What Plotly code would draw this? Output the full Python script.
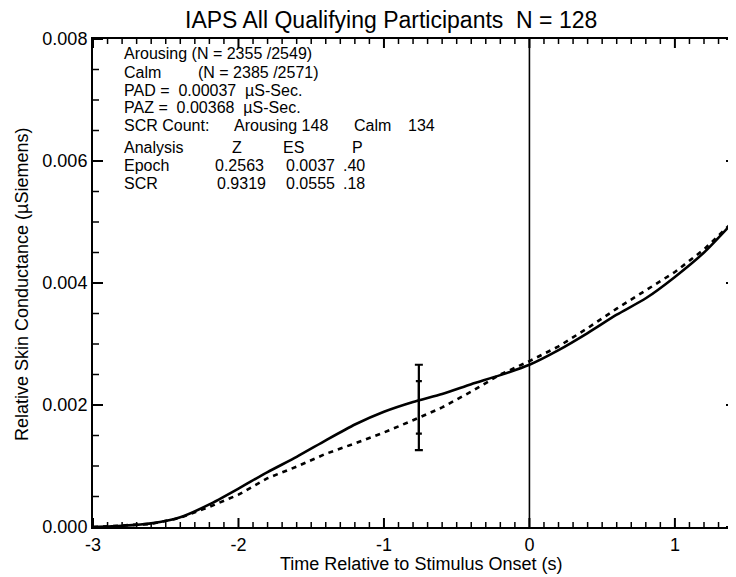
import plotly.graph_objects as go

# ---- data ----
time_s = [-3.0, -2.8, -2.6, -2.4, -2.2, -2.0, -1.8, -1.6, -1.4, -1.2, -1.0, -0.8,
          -0.6, -0.4, -0.2, 0.0, 0.2, 0.4, 0.6, 0.8, 1.0, 1.2, 1.42]
arousing = [0.0, 0.00002, 0.00006, 0.00016, 0.00037, 0.00063, 0.00090, 0.00115,
            0.00142, 0.00168, 0.00189, 0.00205, 0.00218, 0.00234, 0.00249, 0.00266,
            0.00290, 0.00318, 0.00348, 0.00375, 0.00410, 0.00450, 0.00505]
calm = [0.0, 0.00002, 0.00005, 0.00015, 0.00033, 0.00053, 0.00080, 0.00099,
        0.00120, 0.00137, 0.00155, 0.00175, 0.00196, 0.00222, 0.00250, 0.00272,
        0.00296, 0.00326, 0.00358, 0.00388, 0.00418, 0.00455, 0.00505]
errbar_x = [-0.76]
errbar_center = [0.00196]
errbar_outer = [0.00070]
errbar_inner = [0.00043]
onset_x = 0.0

title_text = "IAPS All Qualifying Participants  N = 128"
x_title = "Time Relative to Stimulus Onset (s)"
y_title = "Relative Skin Conductance (µSiemens)"
x_range = [-3, 1.42]
y_range = [0, 0.008]
x_tickvals = [-3, -2, -1, 0, 1]
x_ticktext = ["-3", "-2", "-1", "0", "1"]
y_tickvals = [0.000, 0.002, 0.004, 0.006, 0.008]
y_ticktext = ["0.000", "0.002", "0.004", "0.006", "0.008"]
x_minor_per_major = 10
y_minor_per_major = 4

# info block: (text, x_px, y_px, anchor) in page pixels
info_text = [
    ("Arousing (N = 2355 /2549)", 122, 54, "left"),
    ("Calm", 122, 72, "left"),
    ("(N = 2385 /2571)", 196, 72, "left"),
    ("PAD =\u00a0 0.00037\u00a0 µS-Sec.", 122, 90, "left"),
    ("PAZ =\u00a0 0.00368\u00a0 µS-Sec.", 122, 107, "left"),
    ("SCR Count:", 122, 125, "left"),
    ("Arousing 148", 232, 125, "left"),
    ("Calm", 352, 125, "left"),
    ("134", 437, 125, "right"),
    ("Analysis", 122, 147, "left"),
    ("Z", 237, 147, "center"),
    ("ES", 293, 147, "center"),
    ("P", 357, 147, "center"),
    ("Epoch", 122, 165, "left"),
    ("0.2563", 239, 165, "center"),
    ("0.0037", 310, 165, "center"),
    (".40", 354, 165, "center"),
    ("SCR", 122, 183, "left"),
    ("0.9319", 241, 183, "center"),
    ("0.0555", 310, 183, "center"),
    (".18", 354, 183, "center"),
]

# ---- layout geometry (page has an 8px body margin) ----
OFF = 8
W, H = 736 - OFF, 577 - OFF
PLOT_L, PLOT_R, PLOT_T, PLOT_B = 93, 736, 39, 527   # page pixels
ML, MR, MT = PLOT_L - OFF, 0, PLOT_T - OFF
MB = H - (PLOT_B - OFF)
PW, PH = W - ML - MR, H - MT - MB

FONT = "Liberation Sans, Arial, sans-serif"


def px_x(px):
    return (px - PLOT_L) / PW


def px_y(py):
    return (PLOT_B - py) / PH


fig = go.Figure()
fig.add_trace(go.Scatter(x=time_s, y=calm, mode="lines",
                         line=dict(color="black", width=2.6, dash="5px,5px"),
                         showlegend=False, hoverinfo="skip"))
fig.add_trace(go.Scatter(x=time_s, y=arousing, mode="lines",
                         line=dict(color="black", width=2.6, shape="spline", smoothing=0.6),
                         showlegend=False, hoverinfo="skip"))
fig.add_trace(go.Scatter(x=errbar_x, y=errbar_center, mode="markers",
                         marker=dict(size=1, color="rgba(0,0,0,0)"),
                         error_y=dict(type="data", array=errbar_outer, visible=True,
                                      color="black", thickness=2.2, width=4),
                         showlegend=False, hoverinfo="skip"))
fig.add_trace(go.Scatter(x=errbar_x, y=errbar_center, mode="markers",
                         marker=dict(size=1, color="rgba(0,0,0,0)"),
                         error_y=dict(type="data", array=errbar_inner, visible=True,
                                      color="black", thickness=2.2, width=3),
                         showlegend=False, hoverinfo="skip"))

fig.add_shape(type="line", xref="x", yref="paper", x0=onset_x, x1=onset_x, y0=0, y1=1,
              line=dict(color="black", width=1.6))

# ---- inside tick marks on all four sides (positions from the tick lists) ----
def tick_positions(vals, n_sub, lo, hi):
    step = (vals[1] - vals[0]) / n_sub
    majors, minors = [], []
    k = 0
    start = vals[0] - step * n_sub
    while True:
        v = start + k * step
        if v > hi + 1e-12:
            break
        if v >= lo - 1e-12:
            if k % n_sub == 0:
                majors.append(v)
            else:
                minors.append(v)
        k += 1
    return majors, minors


x_major, x_minor = tick_positions(x_tickvals, x_minor_per_major, *x_range)
y_major, y_minor = tick_positions(y_tickvals, y_minor_per_major, *y_range)

for vals, length, width in ((x_major, 9, 2), (x_minor, 5, 1.5)):
    for v in vals:
        for anchor, sign in ((0, 1), (1, -1)):
            fig.add_shape(type="line", xref="x", yref="paper", ysizemode="pixel",
                          yanchor=anchor, x0=v, x1=v, y0=0, y1=sign * length,
                          line=dict(color="black", width=width))
for vals, length, width in ((y_major, 10, 2), (y_minor, 6, 1.5)):
    for v in vals:
        for anchor, sign in ((0, 1), (1, -1)):
            fig.add_shape(type="line", xref="paper", yref="y", xsizemode="pixel",
                          xanchor=anchor, y0=v, y1=v, x0=0, x1=sign * length,
                          line=dict(color="black", width=width))

for txt, px, py, anc in info_text:
    fig.add_annotation(text=txt, xref="paper", yref="paper",
                       x=px_x(px), y=px_y(py),
                       xanchor=anc, yanchor="middle", showarrow=False,
                       font=dict(family=FONT, size=16, color="black"))

# title and axis titles
fig.add_annotation(text=title_text, xref="paper", yref="paper", x=px_x(391), y=px_y(20),
                   xanchor="center", yanchor="middle", showarrow=False,
                   font=dict(family=FONT, size=23, color="black"))
fig.add_annotation(text=x_title, xref="paper", yref="paper", x=px_x(421), y=px_y(564),
                   xanchor="center", yanchor="middle", showarrow=False,
                   font=dict(family=FONT, size=18, color="black"))
fig.add_annotation(text=y_title, xref="paper", yref="paper", x=px_x(22), y=px_y(284),
                   xanchor="center", yanchor="middle", showarrow=False, textangle=-90,
                   font=dict(family=FONT, size=18, color="black"))

fig.update_layout(
    width=W, height=H,
    margin=dict(l=ML, r=MR, t=MT, b=MB, pad=0, autoexpand=False),
    paper_bgcolor="white", plot_bgcolor="white",
    font=dict(family=FONT, color="black"),
)
fig.update_xaxes(
    range=x_range, tickmode="array", tickvals=x_tickvals, ticktext=x_ticktext,
    ticks="", automargin=False,
    showline=True, linecolor="black", linewidth=2, mirror=True,
    showgrid=False, zeroline=False, tickfont=dict(family=FONT, size=18),
)
fig.update_yaxes(
    range=y_range, tickmode="array", tickvals=y_tickvals, ticktext=y_ticktext,
    ticks="", automargin=False,
    showline=True, linecolor="black", linewidth=2,
    mirror=True, showgrid=False, zeroline=False, tickfont=dict(family=FONT, size=18),
)

fig.write_html("out.html")
